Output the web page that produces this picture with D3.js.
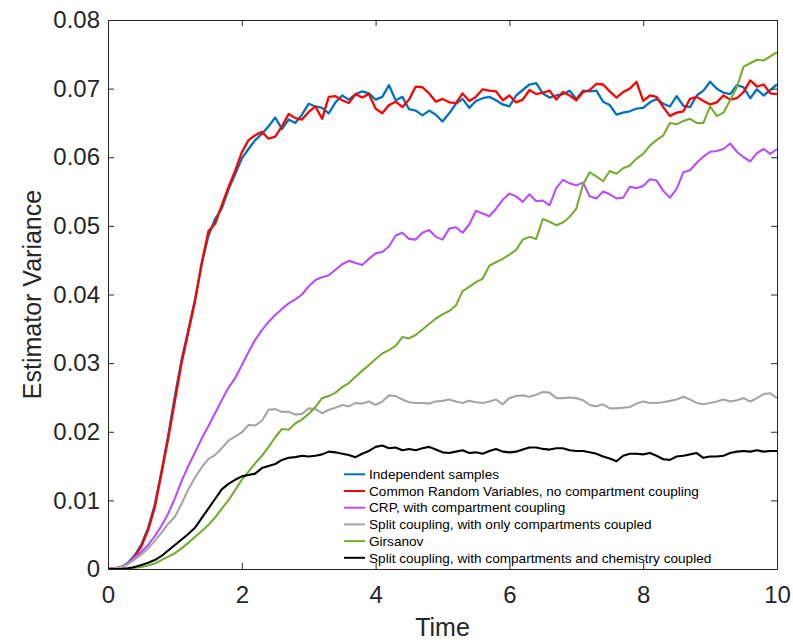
<!DOCTYPE html>
<html>
<head>
<meta charset="utf-8">
<script src="https://cdn.jsdelivr.net/npm/d3@7"></script>
<style>
  body { margin: 0; background: #fff; }
  text { font-family: "Liberation Sans", Arial, sans-serif; }
</style>
</head>
<body>
<div id="chart"></div>
<script>
// time grid (step 0.1)
const time = d3.range(0, 101).map(i => i / 10);

const independent = [0,0.0001,0.0003,0.0009,0.002,0.0036,0.006,0.0094,0.0142,0.0195,
  0.0252,0.0305,0.0348,0.0392,0.0445,0.0485,0.051,0.0525,0.0553,0.0575,
  0.0598,0.0612,0.0625,0.0634,0.0645,0.0658,0.0641,0.0655,0.065,0.0662,
  0.0678,0.0674,0.0672,0.0664,0.068,0.069,0.0684,0.0692,0.0696,0.0693,
  0.0684,0.0688,0.0705,0.0683,0.0688,0.067,0.0668,0.0661,0.0668,0.0662,
  0.0652,0.0664,0.0678,0.0685,0.0672,0.0682,0.0686,0.0688,0.0683,0.0677,
  0.0674,0.069,0.0698,0.0706,0.0708,0.0693,0.0687,0.069,0.0692,0.0697,
  0.0685,0.0697,0.0696,0.0697,0.0681,0.0676,0.0662,0.0665,0.0667,0.0671,
  0.0672,0.068,0.0685,0.0678,0.0674,0.0689,0.0675,0.0673,0.069,0.0697,
  0.071,0.07,0.0694,0.0692,0.0705,0.0702,0.0686,0.0699,0.069,0.0698,0.0706];

const commonRV = [0,0.0001,0.0003,0.0008,0.0018,0.0033,0.0057,0.009,0.014,0.019,
  0.0245,0.03,0.0345,0.039,0.0445,0.0492,0.0503,0.053,0.0556,0.058,
  0.0607,0.0625,0.0632,0.0637,0.0627,0.063,0.0645,0.0663,0.0657,0.0655,
  0.0666,0.0674,0.0656,0.0688,0.0689,0.0683,0.0679,0.0692,0.0687,0.0692,
  0.0671,0.0664,0.0676,0.0681,0.0673,0.0684,0.0703,0.0702,0.0693,0.0681,
  0.0685,0.068,0.0679,0.0693,0.0682,0.0688,0.0699,0.0697,0.0696,0.0683,
  0.069,0.068,0.0684,0.0698,0.0692,0.0694,0.0697,0.0684,0.0695,0.069,
  0.0683,0.0695,0.0698,0.0707,0.0706,0.0696,0.0687,0.0695,0.07,0.071,
  0.0682,0.069,0.0688,0.0673,0.066,0.0665,0.0667,0.0685,0.0688,0.0682,
  0.0677,0.068,0.069,0.0684,0.0686,0.0695,0.0712,0.0703,0.0706,0.0693,0.0692];

const crpCoupled = [0,0.0001,0.0003,0.0008,0.0017,0.0025,0.0035,0.0048,0.0063,0.0081,
  0.0103,0.0128,0.015,0.017,0.019,0.0208,0.0227,0.0246,0.0264,0.0278,
  0.0297,0.0316,0.0334,0.0348,0.036,0.037,0.0379,0.0387,0.0393,0.04,
  0.0412,0.0421,0.0425,0.0428,0.0436,0.0444,0.0449,0.0446,0.0443,0.0452,
  0.046,0.0462,0.047,0.0486,0.049,0.0481,0.048,0.049,0.0494,0.0484,
  0.048,0.0496,0.0498,0.049,0.0502,0.0522,0.0518,0.0514,0.0525,0.0538,
  0.0547,0.0543,0.0535,0.0546,0.0536,0.0537,0.053,0.0555,0.0567,0.0562,
  0.0559,0.0563,0.0543,0.054,0.055,0.0546,0.054,0.0541,0.0557,0.0555,
  0.0558,0.0568,0.0566,0.0551,0.0541,0.0554,0.0578,0.0581,0.0592,0.0601,
  0.0608,0.0609,0.0612,0.062,0.0608,0.06,0.0594,0.0606,0.0612,0.0605,0.0612];

const splitCompartments = [0,0.0001,0.0003,0.0007,0.0014,0.0021,0.003,0.0041,0.0053,0.0066,
  0.0076,0.0095,0.0116,0.0133,0.0148,0.016,0.0166,0.0176,0.0187,0.0193,
  0.0199,0.021,0.0209,0.0216,0.0232,0.0233,0.0229,0.0229,0.0225,0.0226,
  0.0234,0.0233,0.0227,0.0232,0.0235,0.0239,0.0237,0.0242,0.0241,0.0244,
  0.0239,0.0244,0.0253,0.0252,0.0247,0.0243,0.0242,0.0242,0.0241,0.0244,
  0.0245,0.0247,0.0244,0.0242,0.0245,0.0243,0.0242,0.0244,0.0247,0.024,
  0.0249,0.0252,0.0253,0.0251,0.0254,0.0258,0.0257,0.0249,0.0249,0.025,
  0.0249,0.0246,0.0239,0.0237,0.024,0.0234,0.0234,0.0235,0.0236,0.0241,
  0.0244,0.0242,0.0242,0.0243,0.0245,0.0247,0.0251,0.0247,0.0242,0.024,
  0.0242,0.0244,0.0247,0.0244,0.0246,0.0249,0.0244,0.0249,0.0255,0.0256,0.0249];

const girsanov = [0,0,0,0.0001,0.0002,0.0003,0.0005,0.0008,0.0013,0.0018,
  0.0023,0.003,0.0038,0.0047,0.0055,0.0064,0.0075,0.0088,0.01,0.0115,
  0.013,0.0142,0.0154,0.0165,0.0178,0.0192,0.0204,0.0203,0.0212,0.0218,
  0.0226,0.0236,0.0249,0.0252,0.0257,0.0265,0.0271,0.028,0.0289,0.0297,
  0.0306,0.0314,0.0319,0.0325,0.0338,0.0336,0.0341,0.0349,0.0357,0.0365,
  0.0371,0.0376,0.0384,0.0405,0.0411,0.0418,0.0423,0.0442,0.0447,0.0452,
  0.0458,0.0465,0.048,0.0484,0.0481,0.051,0.0506,0.0501,0.0505,0.0513,
  0.0525,0.056,0.0578,0.0572,0.0565,0.058,0.0576,0.0584,0.0588,0.0598,
  0.0605,0.0617,0.0625,0.0632,0.065,0.0648,0.0653,0.0656,0.065,0.065,
  0.0674,0.066,0.0665,0.0683,0.0702,0.0732,0.0737,0.0742,0.0741,0.0747,0.0753];

const splitChemistry = [0,0,0,0.0001,0.0003,0.0006,0.0009,0.0013,0.0019,0.0027,
  0.0035,0.0043,0.0051,0.006,0.0074,0.0088,0.0102,0.0116,0.0124,0.013,
  0.0135,0.0137,0.0139,0.0147,0.015,0.0153,0.0159,0.0162,0.0163,0.0165,
  0.0164,0.0165,0.0167,0.0171,0.017,0.0168,0.0166,0.0163,0.0168,0.0172,
  0.0178,0.018,0.0176,0.0177,0.0173,0.0175,0.0173,0.0176,0.0178,0.0174,
  0.017,0.0169,0.0171,0.0173,0.0169,0.017,0.0168,0.0172,0.0175,0.0171,
  0.017,0.0171,0.0174,0.0177,0.0177,0.0175,0.0174,0.0176,0.0176,0.0173,
  0.0172,0.0172,0.017,0.0168,0.0164,0.0161,0.0157,0.0165,0.0168,0.0168,
  0.0167,0.0169,0.0165,0.016,0.0159,0.0164,0.0165,0.0167,0.0169,0.0162,
  0.0164,0.0164,0.0165,0.0169,0.0171,0.0172,0.0171,0.0173,0.0171,0.0172,0.0172];

const seriesNames = [
  "Independent samples",
  "Common Random Variables, no compartment coupling",
  "CRP, with compartment coupling",
  "Split coupling, with only compartments coupled",
  "Girsanov",
  "Split coupling, with compartments and chemistry coupled"
];
const seriesValues = [independent, commonRV, crpCoupled, splitCompartments, girsanov, splitChemistry];
const seriesColors = ["#0072bd", "#ff0000", "#b84dff", "#a6a6a6", "#77ac30", "#000000"];

const xTicks = [0, 2, 4, 6, 8, 10];
const yTicks = [0, 0.01, 0.02, 0.03, 0.04, 0.05, 0.06, 0.07, 0.08];

var margin = { top: 20, right: 16, bottom: 74, left: 108 },
    width = 793 - margin.left - margin.right,
    height = 643 - margin.top - margin.bottom;

let svg = d3.select("#chart").append("svg")
    .attr("width", 793)
    .attr("height", 643)
    .append("g")
    .attr("transform", "translate(" + margin.left + "," + margin.top + ")");

let x = d3.scaleLinear().domain([0, 10]).range([0, width]);
let y = d3.scaleLinear().domain([0, 0.08]).range([height, 0]);

svg.append("clipPath").attr("id", "clip")
    .append("rect").attr("width", width).attr("height", height);

let line = d3.line()
    .x((d, i) => x(time[i]))
    .y(d => y(d));

// draw series
let plot = svg.append("g").attr("clip-path", "url(#clip)");
seriesValues.forEach((vals, k) => {
    plot.append("path")
        .datum(vals)
        .attr("fill", "none")
        .attr("stroke", seriesColors[k])
        .attr("stroke-width", k < 2 ? 2.3 : 2.1)
        .attr("stroke-linejoin", "round")
        .attr("d", line);
});

// axes, ticks inside on all four sides
const axisColor = "#262626";
let xAxis = svg.append("g")
    .attr("transform", "translate(0," + height + ")")
    .call(d3.axisBottom(x).tickValues(xTicks).tickSize(-6).tickPadding(17).tickFormat(d3.format("d")));
let xTop = svg.append("g")
    .call(d3.axisTop(x).tickValues(xTicks).tickSize(-6).tickFormat(""));
let yAxis = svg.append("g")
    .call(d3.axisLeft(y).tickValues(yTicks).tickSize(-6).tickPadding(8).tickFormat(d => d === 0 ? "0" : d3.format(".2f")(d)));
let yRight = svg.append("g")
    .attr("transform", "translate(" + width + ",0)")
    .call(d3.axisRight(y).tickValues(yTicks).tickSize(-6).tickFormat(""));

[xAxis, xTop, yAxis, yRight].forEach(a => {
    a.select(".domain").attr("stroke", axisColor).attr("stroke-width", 1);
    a.selectAll(".tick line").attr("stroke", axisColor);
    a.selectAll(".tick text").attr("fill", "#262626").style("font-size", "24px")
        .style("font-family", "'Liberation Sans', Arial, sans-serif");
});

// axis labels
svg.append("text")
    .attr("x", width / 2)
    .attr("y", height + 67)
    .attr("text-anchor", "middle")
    .attr("fill", "#262626")
    .style("font-size", "25px")
    .text("Time");

svg.append("text")
    .attr("transform", "translate(" + (-67) + "," + (height / 2) + ") rotate(-90)")
    .attr("text-anchor", "middle")
    .attr("fill", "#262626")
    .style("font-size", "25px")
    .text("Estimator Variance");

// legend
let legend = svg.append("g")
    .attr("transform", "translate(" + (344 - margin.left) + "," + (474.3 - margin.top) + ")");
seriesNames.forEach((name, k) => {
    let row = legend.append("g").attr("transform", "translate(0," + (k * 16.7) + ")");
    row.append("line")
        .attr("x1", 0).attr("x2", 21)
        .attr("stroke", seriesColors[k])
        .attr("stroke-width", 2);
    row.append("text")
        .attr("x", 25)
        .attr("dy", "0.35em")
        .attr("fill", "#000")
        .style("font-size", "13.6px")
        .text(name);
});
</script>
</body>
</html>
